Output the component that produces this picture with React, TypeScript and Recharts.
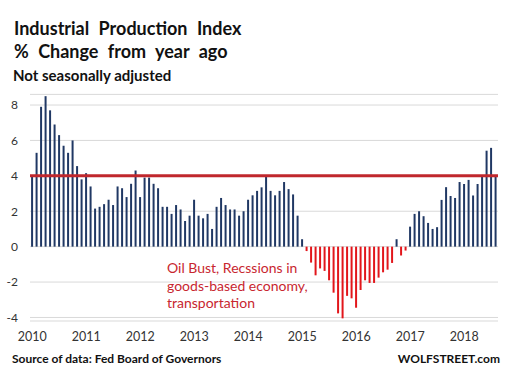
import React from 'react';
import { BarChart, Bar, XAxis, YAxis, CartesianGrid, ReferenceLine, Cell } from 'recharts';

const years = ['2010', '2011', '2012', '2013', '2014', '2015', '2016', '2017', '2018'];
const y2010 = [4.05, 5.3, 7.9, 8.5, 7.7, 6.9, 6.3, 5.7, 5.3, 6.0, 4.55, 3.8];
const y2011 = [4.15, 3.4, 2.15, 2.25, 2.4, 2.65, 2.35, 3.4, 3.3, 2.8, 3.55, 4.3];
const y2012 = [2.8, 3.9, 3.9, 3.55, 3.3, 2.25, 2.25, 1.85, 2.35, 2.1, 1.45, 1.75];
const y2013 = [2.65, 1.75, 1.6, 1.85, 1.0, 2.25, 2.75, 2.35, 2.1, 2.1, 1.75, 2.0];
const y2014 = [2.65, 2.9, 3.15, 3.35, 3.95, 3.15, 2.9, 3.15, 3.65, 3.25, 2.95, 1.75];
const y2015 = [0.42, -0.25, -0.9, -1.62, -1.23, -1.37, -1.9, -2.6, -3.77, -4.05, -2.78, -2.92];
const y2016 = [-3.45, -2.45, -1.9, -2.05, -2.05, -1.75, -1.45, -1.3, -0.92, 0.42, -0.5, -0.22];
const y2017 = [1.13, 1.85, 2.0, 1.72, 1.34, 1.0, 1.1, 2.64, 3.36, 2.86, 2.75, 3.65];
const y2018 = [3.54, 3.77, 2.89, 3.54, 3.96, 5.42, 5.58, 4.05];
const yTicks = [-4, -2, 0, 2, 4, 6, 8];
const referenceLevel = 4;

const seriesByYear = [y2010, y2011, y2012, y2013, y2014, y2015, y2016, y2017, y2018];
const data = seriesByYear.flatMap((vals, yi) =>
  vals.map((v, mi) => ({ month: `${years[yi]}-${String(mi + 1).padStart(2, '0')}`, value: v }))
);

const FONT = 'Lato, "Open Sans", sans-serif';
const NAVY = '#203864';
const RED_BAR = '#E2161B';
const RED_LINE = '#C0272D';

export default function App() {
  return (
    <div style={{ position: 'absolute', left: 0, top: 0, width: 509, height: 380, background: '#fff', fontFamily: FONT }}>
      <BarChart
        width={509}
        height={380}
        data={data}
        margin={{ top: 94.4, right: 11, bottom: 39, left: 8 }}
        barCategoryGap="24%"
      >
        <CartesianGrid vertical={false} stroke="#d9d9d9" />
        <XAxis
          dataKey="month"
          interval={11}
          tickFormatter={(s: string) => s.slice(0, 4)}
          axisLine={false}
          tickLine={false}
          tickSize={0}
          tickMargin={11}
          height={20}
          tick={{ fill: '#333', fontSize: 12.5, fontFamily: FONT }}
        />
        <YAxis
          domain={[-4.2, 8.6]}
          ticks={yTicks}
          axisLine={false}
          tickLine={false}
          tickSize={0}
          tickMargin={12}
          width={22}
          tick={{ fill: '#333', fontSize: 12, fontFamily: FONT }}
        />
        <Bar dataKey="value" isAnimationActive={false}>
          {data.map((d, i) => (
            <Cell key={i} fill={d.value < 0 ? RED_BAR : NAVY} />
          ))}
        </Bar>
        <ReferenceLine y={referenceLevel} stroke={RED_LINE} strokeWidth={3} />
      </BarChart>
      <svg width={509} height={380} style={{ position: 'absolute', left: 0, top: 0, pointerEvents: 'none' }}>
        <g fontFamily={FONT} fontWeight="bold" fill="#111">
          <text x={14} y={35} fontSize={18} wordSpacing={5}>Industrial Production Index</text>
          <text x={14} y={58} fontSize={18} wordSpacing={5}>% Change from year ago</text>
          <text x={13} y={81} fontSize={15}>Not seasonally adjusted</text>
          <text x={12} y={363} fontSize={12}>Source of data: Fed Board of Governors</text>
          <text x={500} y={363} fontSize={12} textAnchor="end">WOLFSTREET.com</text>
        </g>
        <g fontFamily={FONT} fill="#C8262F" fontSize={14}>
          <text x={167} y={273}>Oil Bust, Recssions in</text>
          <text x={167} y={290.5}>goods-based economy,</text>
          <text x={167} y={308}>transportation</text>
        </g>
      </svg>
    </div>
  );
}
